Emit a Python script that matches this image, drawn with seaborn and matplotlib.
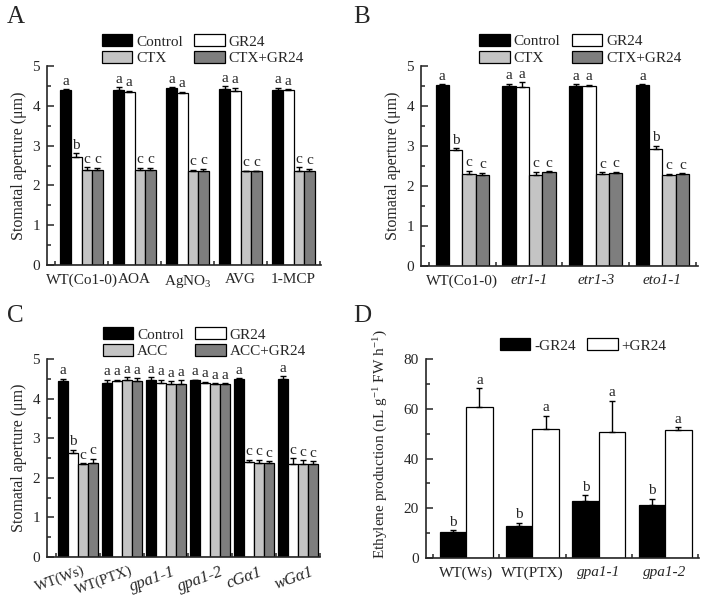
import numpy as np
import pandas as pd
import seaborn as sns
import matplotlib.pyplot as plt
from matplotlib.patches import Patch
from matplotlib.ticker import MultipleLocator, FixedLocator
from matplotlib.transforms import ScaledTranslation

# Panel A data
a_groups = ['WT(Co1-0)', 'AOA', 'AgNO$_3$', 'AVG', '1-MCP']
a_treat = ['Control', 'GR24', 'CTX', 'CTX+GR24']
a_control = [4.39, 4.40, 4.44, 4.41, 4.40]
a_gr24 = [2.71, 4.34, 4.33, 4.38, 4.39]
a_ctx = [2.38, 2.39, 2.35, 2.35, 2.36]
a_ctx_gr24 = [2.38, 2.38, 2.36, 2.35, 2.36]
a_control_err = [0.03, 0.07, 0.03, 0.08, 0.06]
a_gr24_err = [0.10, 0.04, 0.02, 0.08, 0.02]
a_ctx_err = [0.08, 0.05, 0.04, 0.02, 0.09]
a_ctx_gr24_err = [0.06, 0.06, 0.06, 0.01, 0.06]
a_letters = [['a'] * 5, ['b', 'a', 'a', 'a', 'a'], ['c'] * 5, ['c'] * 5]

# Panel B data
b_groups = ['WT(Co1-0)', 'etr1-1', 'etr1-3', 'eto1-1']
b_treat = ['Control', 'GR24', 'CTX', 'CTX+GR24']
b_control = [4.52, 4.51, 4.50, 4.52]
b_gr24 = [2.90, 4.48, 4.50, 2.93]
b_ctx = [2.31, 2.28, 2.30, 2.28]
b_ctx_gr24 = [2.28, 2.34, 2.32, 2.30]
b_control_err = [0.02, 0.05, 0.04, 0.02]
b_gr24_err = [0.04, 0.11, 0.03, 0.07]
b_ctx_err = [0.07, 0.07, 0.04, 0.03]
b_ctx_gr24_err = [0.05, 0.03, 0.04, 0.02]
b_letters = [['a'] * 4, ['b', 'a', 'a', 'b'], ['c'] * 4, ['c'] * 4]

# Panel C data
c_groups = ['WT(Ws)', 'WT(PTX)', 'gpa1-1', 'gpa1-2', 'cGα1', 'wGα1']
c_treat = ['Control', 'GR24', 'ACC', 'ACC+GR24']
c_control = [4.44, 4.40, 4.46, 4.46, 4.49, 4.49]
c_gr24 = [2.63, 4.44, 4.40, 4.40, 2.40, 2.36]
c_acc = [2.36, 4.48, 4.36, 4.37, 2.37, 2.36]
c_acc_gr24 = [2.38, 4.45, 4.36, 4.37, 2.38, 2.36]
c_control_err = [0.06, 0.08, 0.08, 0.02, 0.02, 0.07]
c_gr24_err = [0.08, 0.03, 0.08, 0.03, 0.05, 0.13]
c_acc_err = [0.01, 0.06, 0.08, 0.02, 0.09, 0.08]
c_acc_gr24_err = [0.10, 0.06, 0.10, 0.02, 0.04, 0.06]
c_letters = [['a'] * 6, ['b', 'a', 'a', 'a', 'c', 'c'],
             ['c', 'a', 'a', 'a', 'c', 'c'], ['c', 'a', 'a', 'a', 'c', 'c']]

# Panel D data
d_groups = ['WT(Ws)', 'WT(PTX)', 'gpa1-1', 'gpa1-2']
d_treat = ['-GR24', '+GR24']
d_minus = [10.5, 12.9, 22.9, 21.5]
d_plus = [60.6, 51.8, 50.8, 51.3]
d_minus_err = [0.7, 1.3, 2.4, 2.4]
d_plus_err = [7.6, 5.5, 12.4, 1.3]
d_letters = [['b'] * 4, ['a'] * 4]

colors4 = ['black', 'white', '#c4c4c4', '#7e7e7e']
colors2 = ['black', 'white']

sns.set_style('ticks')
plt.rcParams['font.family'] = ['Liberation Serif', 'DejaVu Serif']
plt.rcParams['mathtext.fontset'] = 'custom'
plt.rcParams['mathtext.rm'] = 'Liberation Serif'
plt.rcParams['mathtext.it'] = 'Liberation Serif:italic'
plt.rcParams['axes.linewidth'] = 1.2


def draw_panel(ax, groups, treats, means, errs, letters, colors, width,
               xlim, ylim, ymajor, yminor, ylabel, italic):
    rows = []
    for t, vals in zip(treats, means):
        for g, v in zip(groups, vals):
            rows.append({'group': g, 'treatment': t, 'value': v})
    df = pd.DataFrame(rows)
    sns.barplot(data=df, x='group', y='value', hue='treatment',
                hue_order=treats, order=groups, palette=colors,
                edgecolor='black', linewidth=0.9, errorbar=None,
                width=width, legend=False, saturation=1, ax=ax)
    for cont, err, lets in zip(ax.containers, errs, letters):
        xs = [b.get_x() + b.get_width() / 2 for b in cont]
        hs = [b.get_height() for b in cont]
        ax.errorbar(xs, hs, yerr=[np.zeros(len(err)), err], fmt='none',
                    ecolor='black', elinewidth=1, capsize=2.5, capthick=1)
        for x, h, e, l in zip(xs, hs, err, lets):
            ax.text(x, h + e + ylim[1] * 0.008, l, ha='center', va='bottom',
                    fontsize=11)
    ax.set_xlim(*xlim)
    ax.set_ylim(*ylim)
    ax.yaxis.set_major_locator(MultipleLocator(ymajor))
    ax.yaxis.set_minor_locator(MultipleLocator(yminor))
    ax.tick_params(axis='y', which='major', direction='in', length=5,
                   width=1.1, labelsize=11, pad=5)
    ax.tick_params(axis='y', which='minor', direction='in', length=3,
                   width=1.1)
    ax.xaxis.set_minor_locator(FixedLocator(np.arange(len(groups) + 1) - 0.5))
    ax.tick_params(axis='x', which='major', length=0, labelsize=11, pad=6)
    ax.tick_params(axis='x', which='minor', direction='in', length=3,
                   width=1.1)
    ax.set_xlabel('')
    ax.set_ylabel(ylabel, fontsize=11.5)
    for lab in ax.get_xticklabels():
        if lab.get_text() in italic:
            lab.set_fontstyle('italic')
    sns.despine(ax=ax)


def add_legend(ax, treats, colors, anchor):
    handles = [Patch(facecolor=c, edgecolor='black', linewidth=0.9, label=t)
               for t, c in zip(treats, colors)]
    if len(handles) == 4:
        handles = [handles[0], handles[2], handles[1], handles[3]]
    ax.legend(handles=handles, ncol=2, loc='upper left',
              bbox_to_anchor=anchor, frameon=False, fontsize=11,
              handlelength=2.0, handleheight=0.85, handletextpad=0.25,
              columnspacing=0.75, labelspacing=0.15, borderpad=0,
              borderaxespad=0)


fig = plt.figure(figsize=(7.02, 5.99), dpi=100)
ax_a = fig.add_axes([0.067, 0.5576, 0.3903, 0.3322])
ax_b = fig.add_axes([0.5997, 0.5559, 0.3946, 0.3339])
ax_c = fig.add_axes([0.067, 0.0701, 0.389, 0.3306])
ax_d = fig.add_axes([0.6068, 0.0684, 0.3889, 0.3322])

stom = 'Stomatal aperture (μm)'

draw_panel(ax_a, a_groups, a_treat,
           [a_control, a_gr24, a_ctx, a_ctx_gr24],
           [a_control_err, a_gr24_err, a_ctx_err, a_ctx_gr24_err],
           a_letters, colors4, 0.8, (-0.651, 4.519), (0, 5), 1, 0.5,
           stom, [])
add_legend(ax_a, a_treat, colors4, (0.2, 1.16))

draw_panel(ax_b, b_groups, b_treat,
           [b_control, b_gr24, b_ctx, b_ctx_gr24],
           [b_control_err, b_gr24_err, b_ctx_err, b_ctx_gr24_err],
           b_letters, colors4, 0.8, (-0.62, 3.533), (0, 5), 1, 0.5,
           stom, ['etr1-1', 'etr1-3', 'eto1-1'])
add_legend(ax_b, b_treat, colors4, (0.21, 1.16))

draw_panel(ax_c, c_groups, c_treat,
           [c_control, c_gr24, c_acc, c_acc_gr24],
           [c_control_err, c_gr24_err, c_acc_err, c_acc_gr24_err],
           c_letters, colors4, 0.9, (-0.705, 5.5), (0, 5), 1, 0.5,
           stom, [])
add_legend(ax_c, c_treat, colors4, (0.204, 1.16))

# slanted, hand-nudged category labels of panel C
ax_c.set_xticks(range(len(c_groups)))
ax_c.set_xticklabels(c_groups, rotation=20, ha='right',
                     rotation_mode='anchor')
ax_c.tick_params(axis='x', which='major', pad=5)
c_label_dx = [4, 8, 6, 10, 5, 12]
for lab, dx in zip(ax_c.get_xticklabels(), c_label_dx):
    if lab.get_text() in ('WT(Ws)', 'WT(PTX)'):
        lab.set_fontsize(10.5)
    else:
        lab.set_fontsize(12)
        lab.set_fontstyle('italic')
    lab.set_transform(lab.get_transform()
                      + ScaledTranslation(dx / 100, 0, fig.dpi_scale_trans))

draw_panel(ax_d, d_groups, d_treat, [d_minus, d_plus],
           [d_minus_err, d_plus_err], d_letters, colors2, 0.8,
           (-0.606, 3.512), (0, 80), 20, 10,
           'Ethylene production (nL g$^{-1}$ FW h$^{-1}$)',
           ['gpa1-1', 'gpa1-2'])
ax_d.yaxis.label.set_fontsize(11)
ax_d.yaxis.set_label_coords(-0.13, 0.57)
add_legend(ax_d, d_treat, colors2, (0.27, 1.105))

for x, y, s in [(0.01, 0.99, 'A'), (0.503, 0.99, 'B'),
                (0.01, 0.49, 'C'), (0.503, 0.49, 'D')]:
    fig.text(x, y, s, fontsize=18, va='top', ha='left')

fig.savefig('out.png', dpi=100)
